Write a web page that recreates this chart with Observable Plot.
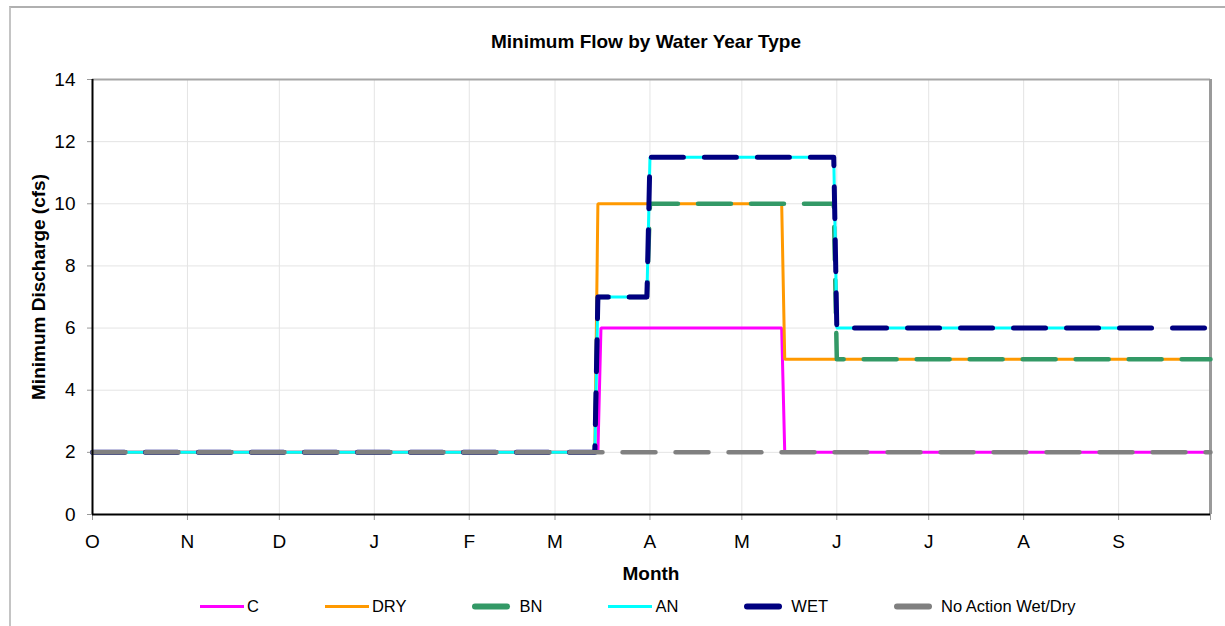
<!DOCTYPE html>
<html>
<head>
<meta charset="utf-8">
<script src="https://cdn.jsdelivr.net/npm/d3@7"></script>
<script src="https://cdn.jsdelivr.net/npm/@observablehq/plot@0.6"></script>
<style>
  body { margin: 0; background: #fff; font-family: "Liberation Sans", Arial, sans-serif; }
  #wrap { position: relative; width: 1225px; height: 626px; overflow: hidden; background: #fff; }
  #border { position: absolute; left: 9px; top: 6px; width: 1300px; height: 700px;
            border-left: 2px solid #c4c4c4; border-top: 2px solid #b0b0b0; }
  #chart { position: absolute; left: 0; top: 0; }
  .lbl { position: absolute; transform: translate(-50%, -50%); white-space: nowrap;
         font-weight: bold; font-size: 19px; color: #000; line-height: 1; }
  #ylab { transform: translate(-50%, -50%) rotate(-90deg); }
  #legend { position: absolute; left: 200px; top: 606px; transform: translateY(-50%);
            display: flex; align-items: center; gap: 66px; font-size: 16.5px; color: #000; }
  .item { display: flex; align-items: center; }
  .item svg { margin-right: 3px; }
</style>
</head>
<body>
<div id="wrap">
  <div id="border"></div>
  <div id="chart"></div>
  <div class="lbl" id="title" style="left:646px; top:41px;">Minimum Flow by Water Year Type</div>
  <div class="lbl" id="xlab" style="left:651px; top:573px;">Month</div>
  <div class="lbl" id="ylab" style="left:38px; top:287px;">Minimum Discharge (cfs)</div>
  <div id="legend"></div>
</div>
<script>
// ---- data ----
const months = ["O","N","D","J","F","M","A","M","J","J","A","S"];
const monthStart = [0,31,61,92,123,151,182,212,243,273,304,335]; // day of water year
const yearEnd = 365;
const yTicks = [0,2,4,6,8,10,12,14];

const seriesNames = ["C","DRY","BN","AN","WET","No Action Wet/Dry"];

const cDays   = [0,165,166,225,226,365];
const cFlow   = [2,2,6,6,2,2];
const dryDays = [0,164,165,225,226,365];
const dryFlow = [2,2,10,10,5,5];
const bnDays  = [0,164,165,181,182,242,243,365];
const bnFlow  = [2,2,7,7,10,10,5,5];
const anDays  = [0,164,165,181,182,242,243,335];
const anFlow  = [2,2,7,7,11.5,11.5,6,6];
const wetDays = [0,164,165,181,182,242,243,365];
const wetFlow = [2,2,7,7,11.5,11.5,6,6];
const naDays  = [0,365];
const naFlow  = [2,2];

// ---- styles ----
const styles = {
  "C":   {color:"#ff00ff", width:3,   dash:null},
  "DRY": {color:"#ff9900", width:3,   dash:null},
  "BN":  {color:"#339966", width:4.5, dash:"33,20"},
  "AN":  {color:"#00ffff", width:3,   dash:null},
  "WET": {color:"#000080", width:5,   dash:"32,21"},
  "No Action Wet/Dry": {color:"#808080", width:4.5, dash:"33,20"}
};

const seriesData = {
  "C": [cDays, cFlow],
  "DRY": [dryDays, dryFlow],
  "BN": [bnDays, bnFlow],
  "AN": [anDays, anFlow],
  "WET": [wetDays, wetFlow],
  "No Action Wet/Dry": [naDays, naFlow]
};

const lineMarks = seriesNames.map(name => {
  const [days, flow] = seriesData[name];
  const s = styles[name];
  const rows = days.map((d, i) => ({day: d, flow: flow[i], series: name}));
  return Plot.line(rows, {
    x: "day", y: "flow",
    stroke: s.color, strokeWidth: s.width,
    strokeDasharray: s.dash || undefined,
    strokeLinecap: s.dash ? "round" : "butt",
    strokeLinejoin: s.dash ? "round" : "miter"
  });
});

const chart = Plot.plot({
  width: 1225, height: 626,
  marginLeft: 92, marginRight: 15, marginTop: 79, marginBottom: 112,
  x: {domain: [0, yearEnd]},
  y: {domain: [0, 14]},
  style: {fontFamily: "'Liberation Sans', Arial, sans-serif", fontSize: "19px", background: "transparent", overflow: "visible", color: "#000"},
  marks: [
    Plot.gridY(yTicks.filter(v => v > 0 && v < 14), {stroke: "#e4e4e4", strokeOpacity: 1}),
    Plot.gridX(monthStart.slice(1), {stroke: "#e4e4e4", strokeOpacity: 1}),
    Plot.ruleY([14], {stroke: "#a6a6a6", strokeWidth: 2}),
    Plot.ruleX([yearEnd], {stroke: "#9a9a9a", strokeWidth: 3}),
    Plot.axisY(yTicks, {tickSize: 5, tickPadding: 12, stroke: "#999", fill: "#000", label: null, fontSize: 19}),
    Plot.axisX([...monthStart, yearEnd], {
      tickSize: 6, tickPadding: 14, stroke: "#999", fill: "#000", label: null, fontSize: 19,
      tickFormat: d => { const i = monthStart.indexOf(d); return i >= 0 ? months[i] : ""; }
    }),
    ...lineMarks,
    Plot.ruleX([0], {stroke: "#000", strokeWidth: 2}),
    Plot.ruleY([0], {stroke: "#000", strokeWidth: 2})
  ]
});
document.getElementById("chart").appendChild(chart);

// ---- legend ----
const legend = document.getElementById("legend");
seriesNames.forEach(name => {
  const s = styles[name];
  const item = document.createElement("div");
  item.className = "item";
  const thick = !!s.dash;
  const x1 = thick ? 3 : 0, x2 = thick ? 35 : 44;
  item.innerHTML = `<svg width="44" height="10"><line x1="${x1}" y1="5" x2="${x2}" y2="5" stroke="${s.color}" stroke-width="${thick ? 6 : 3}" stroke-linecap="${thick ? "round" : "butt"}"/></svg><span>${name}</span>`;
  legend.appendChild(item);
});
</script>
</body>
</html>
